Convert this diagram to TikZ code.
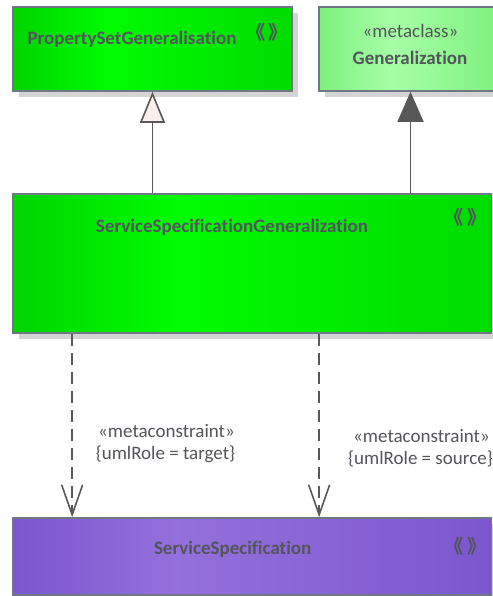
\documentclass[tikz,border=0pt]{standalone}
\usepackage{fontspec}
\setmainfont{Carlito}[Ligatures=NoCommon]
\newfontfamily\cjkfont{Noto Sans CJK SC}
\usepackage{tikz}
\usetikzlibrary{arrows.meta, positioning, calc, shadows}
\definecolor{elemborder}{RGB}{112,120,136}
\definecolor{elemtext}{RGB}{84,84,92}
\definecolor{linegrey}{RGB}{88,88,88}
\definecolor{shadowgrey}{RGB}{212,212,212}
\definecolor{hollowfill}{RGB}{248,240,236}
\definecolor{greenedge}{RGB}{0,212,0}
\definecolor{greenmid}{RGB}{0,252,0}
\definecolor{greenright}{RGB}{0,220,0}
\definecolor{paleedge}{RGB}{126,240,126}
\definecolor{palemid}{RGB}{166,255,166}
\definecolor{purpleedge}{RGB}{124,86,206}
\definecolor{purplemid}{RGB}{148,112,220}
\pgfdeclarehorizontalshading{greenband}{100bp}{color(0bp)=(greenedge); color(25bp)=(greenedge); color(42bp)=(greenmid); color(75bp)=(greenright); color(100bp)=(greenright)}
\pgfdeclarehorizontalshading{paleband}{100bp}{color(0bp)=(paleedge); color(25bp)=(paleedge); color(45bp)=(palemid); color(75bp)=(paleedge); color(100bp)=(paleedge)}
\pgfdeclarehorizontalshading{purpleband}{100bp}{color(0bp)=(purpleedge); color(25bp)=(purpleedge); color(42bp)=(purplemid); color(75bp)=(purpleedge); color(100bp)=(purpleedge)}
\newcommand{\stereomark}{{\cjkfont\bfseries\fontsize{19bp}{19bp}\selectfont 《\kern4bp》}}

\begin{document}
\begin{tikzpicture}[
  x=1bp, y=1bp,
  every node/.style={font=\fontsize{19bp}{23bp}\selectfont, text=elemtext, inner sep=0pt},
  elem/.style={rectangle, draw=elemborder, line width=1.6bp,
               drop shadow={shadow xshift=6bp, shadow yshift=-6bp, fill=shadowgrey, opacity=1}},
  title/.style={anchor=base, font=\fontsize{19bp}{23bp}\selectfont\bfseries},
  lbl/.style={anchor=base},
  stereobox/.style={anchor=center},
  genarrow/.style={draw=linegrey, line width=1.6bp, -{Triangle[length=31bp, width=25bp, fill=hollowfill]}},
  extarrow/.style={draw=linegrey, line width=1.6bp, -{Triangle[length=30bp, width=26bp, fill=linegrey]}},
  deparrow/.style={draw=linegrey, line width=1.6bp, dash pattern=on 12bp off 7bp,
                   -{Straight Barb[length=30bp, width=21bp]}}
]
\useasboundingbox (0,0) rectangle (493,596);
\node[elem, shading=greenband, minimum width=279bp, minimum height=84bp] (psg) at (152.5,547) {};
\node[elem, shading=paleband, minimum width=183bp, minimum height=84bp] (gen) at (410.5,547) {};
\node[elem, shading=greenband, minimum width=478.7bp, minimum height=139bp] (ssg) at (252.3,332.5) {};
\node[elem, shading=purpleband, minimum width=478.7bp, minimum height=77bp] (ss) at (252.3,39.5) {};

\node[title] (psgname) at (132,551) {PropertySetGeneralisation};
\node[stereobox] (psgmark) at (267,564) {\stereomark};
\node[lbl] (genstereo) at (410.5,558) {«metaclass»};
\node[title] (genname) at (410,531) {Generalization};
\node[title] (ssgname) at (232,363) {ServiceSpecificationGeneralization};
\node[stereobox] (ssgmark) at (465.5,378.5) {\stereomark};
\node[title] (ssname) at (232.7,41) {ServiceSpecification};
\node[stereobox] (ssmark) at (465.5,49.5) {\stereomark};

\draw[genarrow] (ssg.north -| psg.south) -- (psg.south);
\draw[extarrow] (ssg.north -| gen.south) -- (gen.south);
\draw[deparrow] ([xshift=60bp]ssg.south west) -- ([xshift=60bp]ss.north west);
\draw[deparrow] ([xshift=307bp]ssg.south west) -- ([xshift=307bp]ss.north west);

\node[lbl] (tgtstereo) at (166.5,158) {«metaconstraint»};
\node[lbl] (tgtrole) at (165.5,136) {\{umlRole = target\}};
\node[lbl] (srcstereo) at (421.5,153) {«metaconstraint»};
\node[lbl] (srcrole) at (420.5,131) {\{umlRole = source\}};
\end{tikzpicture}
\end{document}
